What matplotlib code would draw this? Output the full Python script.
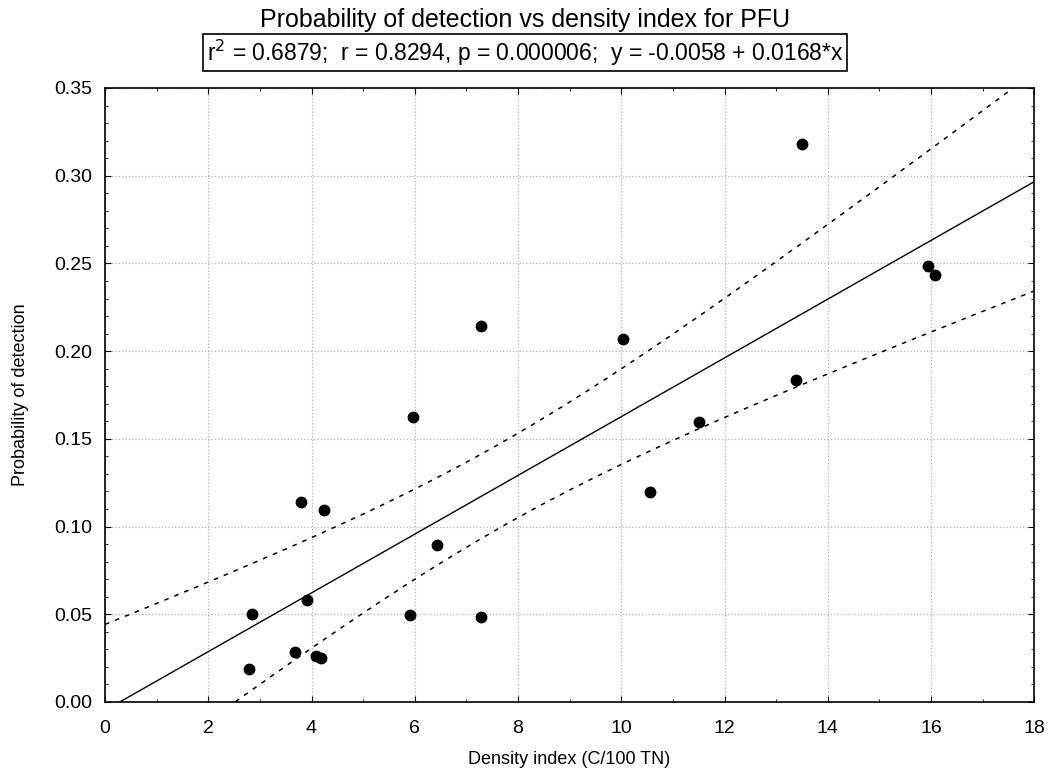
import numpy as np
import matplotlib
matplotlib.use("Agg")
import matplotlib.pyplot as plt
from matplotlib.ticker import MultipleLocator, FormatStrFormatter

plt.rcParams["font.family"] = ["Liberation Sans", "DejaVu Sans"]

density = [13.51, 15.94, 16.07, 7.29, 10.03, 13.39, 5.96, 11.51, 10.56, 3.80,
           4.25, 6.43, 3.91, 2.85, 5.90, 7.29, 3.69, 4.09, 4.19, 2.79]
prob = [0.318, 0.2485, 0.2434, 0.2144, 0.2068, 0.1835, 0.1623, 0.1598, 0.1197, 0.1140,
        0.1093, 0.0894, 0.0581, 0.0500, 0.0493, 0.0483, 0.0284, 0.0263, 0.0250, 0.0189]

stats_text = r"r$^2$ = 0.6879;  r = 0.8294, p = 0.000006;  y = -0.0058 + 0.0168*x"

x = np.array(density)
y = np.array(prob)
n = len(x)
slope, intercept = np.polyfit(x, y, 1)
resid = y - (intercept + slope * x)
s = np.sqrt(np.sum(resid ** 2) / (n - 2))
t_crit = 2.101  # t(0.975, df=18)

xs = np.linspace(0, 18, 400)
fit = intercept + slope * xs
se = s * np.sqrt(1.0 / n + (xs - x.mean()) ** 2 / np.sum((x - x.mean()) ** 2))

fig = plt.figure(figsize=(10.5, 7.76), dpi=100)
ax = fig.add_axes([0.1, 0.0954, 0.885, 0.7912])

ax.plot(xs, fit, color="black", lw=1.0)
ax.plot(xs, fit + t_crit * se, color="black", lw=1.1, ls=(0, (3, 4)))
ax.plot(xs, fit - t_crit * se, color="black", lw=1.1, ls=(0, (3, 4)))
ax.plot(x, y, "o", color="black", ms=7.5, zorder=5)

ax.set_xlim(0, 18)
ax.set_ylim(0, 0.35)
ax.xaxis.set_major_locator(MultipleLocator(2))
ax.xaxis.set_minor_locator(MultipleLocator(1))
ax.yaxis.set_major_locator(MultipleLocator(0.05))
ax.yaxis.set_minor_locator(MultipleLocator(0.01))
ax.yaxis.set_major_formatter(FormatStrFormatter("%.2f"))
ax.tick_params(which="both", direction="in", top=True, right=True, labelsize=14)
ax.tick_params(which="major", length=4)
ax.tick_params(which="minor", length=2.5)
ax.tick_params(axis="x", which="major", pad=13)
ax.tick_params(axis="y", which="major", pad=9)
ax.grid(True, which="major", color="#b0b0b0", ls=":", lw=0.9)
for sp in ax.spines.values():
    sp.set_linewidth(1.2)

ax.set_xlabel("Density index (C/100 TN)", fontsize=13, labelpad=10)
ax.set_ylabel("Probability of detection", fontsize=13, labelpad=18)

fig.text(0.5, 0.974, "Probability of detection vs density index for PFU",
         ha="center", va="center", fontsize=18)
fig.text(0.5, 0.932, stats_text, ha="center", va="center", fontsize=16.5,
         bbox=dict(boxstyle="square,pad=0.15", fc="white", ec="black", lw=1.2))

fig.savefig("out.png", dpi=100)
